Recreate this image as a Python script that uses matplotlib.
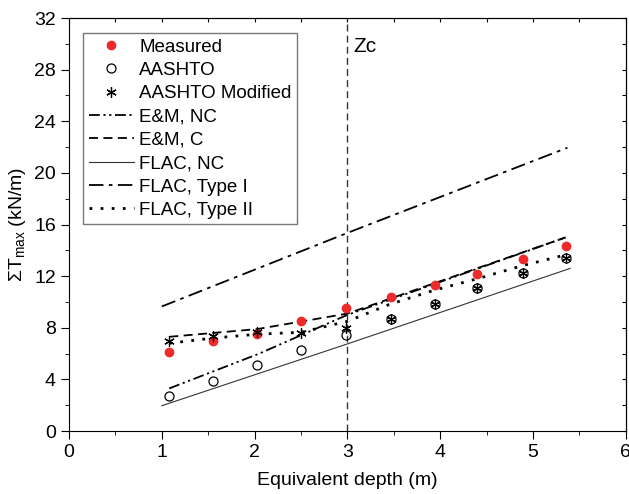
import numpy as np
import matplotlib.pyplot as plt

plt.rcParams['font.family'] = ['Liberation Sans', 'DejaVu Sans']
plt.rcParams['mathtext.fontset'] = 'custom'
plt.rcParams['mathtext.rm'] = 'Liberation Sans'
plt.rcParams['mathtext.it'] = 'Liberation Sans:italic'

# Вхідні дані
depth = [1.08, 1.55, 2.03, 2.5, 2.98, 3.47, 3.94, 4.4, 4.89, 5.36]
measured = [6.1, 6.95, 7.55, 8.5, 9.5, 10.35, 11.3, 12.2, 13.3, 14.35]
aashto = [2.7, 3.9, 5.1, 6.25, 7.47, 8.68, 9.87, 11.06, 12.27, 13.43]
aashto_mod = [7.0, 7.35, 7.7, 7.6, 7.95, 8.68, 9.87, 11.06, 12.27, 13.43]

em_nc_x = [1.08, 2.05, 3.0, 5.35]
em_nc_y = [3.3, 6.0, 9.0, 15.0]
em_c_x = [1.08, 2.03, 3.0, 5.35]
em_c_y = [7.3, 7.9, 9.1, 15.0]
flac_nc_x = [1.0, 3.0, 5.4]
flac_nc_y = [1.96, 6.75, 12.6]
flac_t1_x = [1.0, 3.0, 5.37]
flac_t1_y = [9.65, 15.35, 21.95]
flac_t2_x = [1.08, 1.55, 2.03, 2.5, 3.0, 3.45, 3.93, 4.4, 4.88, 5.35]
flac_t2_y = [6.8, 7.2, 7.5, 7.65, 8.5, 9.8, 10.9, 11.8, 12.8, 13.65]

zc = 3.0

fig = plt.figure(figsize=(6.29, 4.94), dpi=100)
ax = fig.add_axes([0.1097, 0.1275, 0.8853, 0.836])

ax.plot(depth, measured, 'o', color='#ee2a2a', markersize=6, mec='#ee2a2a', label='Measured', zorder=5)
ax.plot(depth, aashto, 'o', mfc='none', mec='black', markersize=6.5, mew=0.9, label='AASHTO', zorder=5)
ax.plot(depth, aashto_mod, linestyle='none', marker=(6, 2, 0), color='black', markersize=7.5, mew=0.9,
        label='AASHTO Modified', zorder=6)

ax.plot(em_nc_x, em_nc_y, color='black', lw=1.3, linestyle=(0, (6, 2, 1.2, 2, 1.2, 2)), label='E&M, NC')
ax.plot(em_c_x, em_c_y, color='black', lw=1.3, linestyle=(0, (5, 3)), label='E&M, C')
ax.plot(flac_nc_x, flac_nc_y, color='#333333', lw=0.8, label='FLAC, NC')
ax.plot(flac_t1_x, flac_t1_y, color='black', lw=1.3, linestyle=(0, (8, 3, 2, 3)), label='FLAC, Type I')
ax.plot(flac_t2_x, flac_t2_y, color='black', lw=2, linestyle=(0, (1, 3)), label='FLAC, Type II')

ax.axvline(zc, color='#333333', lw=1, linestyle=(0, (5, 3)))
ax.text(3.06, 29.8, 'Zc', fontsize=15, va='center')

ax.set_xlim(0, 6)
ax.set_ylim(0, 32)
ax.set_xticks(range(0, 7))
ax.set_yticks(range(0, 33, 4))
ax.set_xticks(np.arange(0.5, 6, 1), minor=True)
ax.set_yticks(range(2, 32, 4), minor=True)
ax.tick_params(axis='both', which='major', direction='out', length=6, labelsize=14)
ax.tick_params(axis='both', which='minor', direction='out', length=3)
sec_x = ax.secondary_xaxis('top')
sec_x.set_xticks(np.arange(0, 6.5, 0.5))
sec_x.tick_params(direction='in', length=3, labeltop=False)
sec_y = ax.secondary_yaxis('right')
sec_y.set_yticks(range(0, 33, 2))
sec_y.tick_params(direction='in', length=3, labelright=False)

ax.set_xlabel('Equivalent depth (m)', fontsize=14, labelpad=8)
ax.set_ylabel(r'$\Sigma$T$_{\rm max}$ (kN/m)', fontsize=14, labelpad=4)

ax.legend(loc='upper left', bbox_to_anchor=(0.025, 0.964), borderaxespad=0, fontsize=13.5, frameon=True,
          fancybox=False, edgecolor='#555555', handlelength=2.4, handletextpad=0.3, labelspacing=0.33,
          borderpad=0.3)

fig.savefig('out.png', dpi=100)
